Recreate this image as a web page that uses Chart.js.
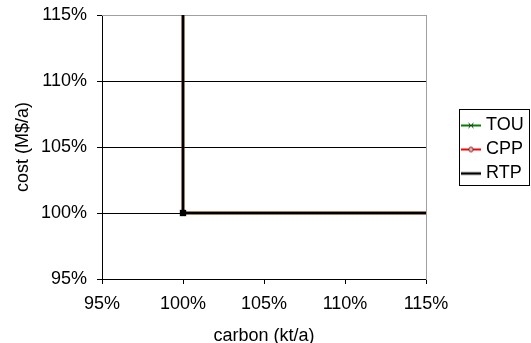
<!DOCTYPE html>
<html>
<head>
<meta charset="utf-8">
<script src="https://cdn.jsdelivr.net/npm/chart.js@4/dist/chart.umd.min.js"></script>
<style>
    body { margin: 0; background: #fff; }
</style>
</head>
<body>
<canvas id="myChart" width="531" height="343"></canvas>
<script>
// values in % of the base case
// (the lines run off the top and the right edge of the plot)
const series = ['TOU', 'CPP', 'RTP'];
const tou_carbon = [100, 100, 120];
const tou_cost = [120, 100, 100];
const cpp_carbon = [100, 100, 120];
const cpp_cost = [120, 100, 100];
const rtp_carbon = [100, 100, 120];
const rtp_cost = [120, 100, 100];
const eixo_min = 95;
const eixo_max = 115;
const eixo_passo = 5;

function pontos(xs, ys) {
    var lista = [];
    for (var i = 0; i < xs.length; i++) {
        lista.push({ x: xs[i], y: ys[i] });
    }
    return lista;
}

// little line + marker pictures for the legend
function marca(cor, tipo) {
    var c = document.createElement('canvas');
    c.width = 20;
    c.height = 10;
    var ctx = c.getContext('2d');
    ctx.strokeStyle = cor;
    ctx.lineWidth = tipo == 'linha' ? 2.5 : 2;
    ctx.beginPath();
    ctx.moveTo(0, 5);
    ctx.lineTo(20, 5);
    ctx.stroke();
    if (tipo == 'x') {
        ctx.strokeStyle = '#203020';
        ctx.lineWidth = 1;
        ctx.beginPath();
        ctx.moveTo(7.5, 2.5); ctx.lineTo(12.5, 7.5);
        ctx.moveTo(12.5, 2.5); ctx.lineTo(7.5, 7.5);
        ctx.stroke();
    } else if (tipo == 'o') {
        ctx.fillStyle = '#ffb0b0';
        ctx.strokeStyle = '#602020';
        ctx.lineWidth = 1;
        ctx.beginPath();
        ctx.arc(10, 5, 2.3, 0, Math.PI * 2);
        ctx.fill();
        ctx.stroke();
    }
    return c;
}
const imagens = [marca('#008000', 'x'), marca('#ff0000', 'o'), marca('#000000', 'linha')];

const fonte = { family: '"Liberation Sans", Arial, sans-serif', size: 18 };

const moldura = {
    id: 'moldura',
    afterDraw: function (chart) {
        var l = chart.legend;
        var ctx = chart.ctx;
        var meio = (l.top + l.bottom) / 2;
        ctx.save();
        ctx.strokeStyle = '#000';
        ctx.lineWidth = 1;
        ctx.strokeRect(Math.round(l.left) + 0.5, Math.round(meio - 38) + 0.5, 70, 76);
        ctx.restore();
    }
};

const data = {
    datasets: [{
        label: series[0],
        data: pontos(tou_carbon, tou_cost),
        borderColor: '#008000',
        backgroundColor: '#008000',
        borderWidth: 2.5,
        pointStyle: 'crossRot',
        pointRadius: 3.5,
        pointBorderColor: '#203020',
        pointBorderWidth: 1,
        order: 3
    }, {
        label: series[1],
        data: pontos(cpp_carbon, cpp_cost),
        borderColor: '#ff0000',
        backgroundColor: '#ffb0b0',
        borderWidth: 2.5,
        pointStyle: 'circle',
        pointRadius: 2.5,
        pointBorderColor: '#602020',
        pointBorderWidth: 1,
        order: 2
    }, {
        label: series[2],
        data: pontos(rtp_carbon, rtp_cost),
        borderColor: '#000000',
        backgroundColor: '#000000',
        borderWidth: 2.5,
        pointStyle: 'rect',
        pointRadius: 4.5,
        pointBorderWidth: 0,
        order: 1
    }]
};

const config = {
    type: 'scatter',
    data: data,
    plugins: [moldura],
    options: {
        responsive: false,
        animation: false,
        devicePixelRatio: 1,
        showLine: true,
        layout: { padding: { left: 0, right: 0, top: 0, bottom: 0 } },
        plugins: {
            tooltip: { enabled: false },
            legend: {
                position: 'right',
                fullSize: false,
                maxWidth: 72,
                // empty title only nudges the entries down a little
                title: { display: true, text: '', font: { size: 5, lineHeight: 1 }, padding: 0 },
                labels: {
                    usePointStyle: true,
                    pointStyleWidth: 12,
                    padding: 6,
                    color: '#000',
                    font: fonte,
                    sort: function (a, b) { return a.datasetIndex - b.datasetIndex; },
                    generateLabels: function (chart) {
                        var itens = Chart.defaults.plugins.legend.labels.generateLabels(chart);
                        itens.forEach(function (it) { it.pointStyle = imagens[it.datasetIndex]; });
                        return itens;
                    }
                }
            }
        },
        scales: {
            x: {
                type: 'linear',
                position: 'bottom',
                min: eixo_min,
                max: eixo_max,
                ticks: {
                    stepSize: eixo_passo,
                    padding: 9,
                    maxRotation: 0,
                    color: '#000',
                    font: fonte,
                    callback: function (v) { return v + '%'; }
                },
                grid: { drawOnChartArea: false, tickLength: 5, tickColor: '#000' },
                border: { color: '#000' },
                title: { display: true, text: 'carbon (kt/a)', color: '#000', font: fonte, padding: { top: 0, bottom: -4 } },
                afterFit: function (s) { s.height = 64; }
            },
            y: {
                type: 'linear',
                position: 'left',
                min: eixo_min,
                max: eixo_max,
                ticks: {
                    stepSize: eixo_passo,
                    padding: 10,
                    color: '#000',
                    font: fonte,
                    callback: function (v) { return v + '%'; }
                },
                grid: {
                    tickLength: 5,
                    tickColor: '#000',
                    color: function (c) { return c.tick && c.tick.value == eixo_max ? '#a0a0a0' : '#000'; }
                },
                border: { color: '#000' },
                title: { display: true, text: 'cost (M$/a)', color: '#000', font: fonte, padding: { top: 12, bottom: 0 } },
                afterFit: function (s) {
                    s.width = 102;
                    s.paddingTop = 0;
                    s.paddingBottom = 0;
                }
            },
            x2: {
                type: 'linear',
                position: 'top',
                display: true,
                ticks: { display: false },
                grid: { drawOnChartArea: false, drawTicks: false },
                border: { color: '#a0a0a0' },
                afterFit: function (s) { s.height = 15; }
            },
            y2: {
                type: 'linear',
                position: 'right',
                display: true,
                ticks: { display: false },
                grid: { drawOnChartArea: false, drawTicks: false },
                border: { color: '#a0a0a0' },
                afterFit: function (s) { s.width = 33; }
            }
        }
    }
};

const myChart = new Chart(document.getElementById('myChart'), config);
</script>
</body>
</html>
